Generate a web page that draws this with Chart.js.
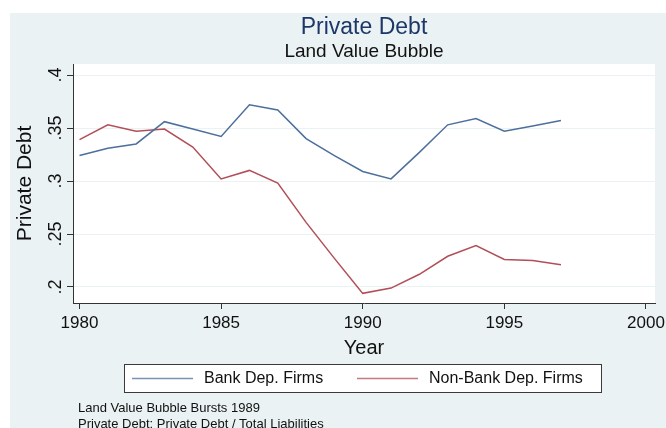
<!DOCTYPE html>
<html>
<head>
<meta charset="utf-8">
<script src="https://cdn.jsdelivr.net/npm/chart.js@4.4.1/dist/chart.umd.min.js"></script>
<style>
  html, body { margin: 0; padding: 0; background: #fff; }
  #wrap { width: 666px; height: 428px; position: relative; }
</style>
</head>
<body>
<div id="wrap"><canvas id="chart" width="666" height="428"></canvas></div>
<script>
// data
const years = [1980, 1981, 1982, 1983, 1984, 1985, 1986, 1987, 1988,
               1989, 1990, 1991, 1992, 1993, 1994, 1995, 1996, 1997];
const bankDep = [0.324, 0.331, 0.335, 0.356, 0.349, 0.342, 0.372, 0.367, 0.340,
                 0.324, 0.309, 0.302, 0.327, 0.353, 0.359, 0.347, 0.352, 0.357];
const nonBankDep = [0.339, 0.353, 0.347, 0.349, 0.332, 0.302, 0.310, 0.298, 0.261,
                    0.227, 0.194, 0.199, 0.212, 0.229, 0.239, 0.226, 0.225, 0.221];
const xTicks = [1980, 1985, 1990, 1995, 2000];
const yTicks = [0.2, 0.25, 0.3, 0.35, 0.4];
const yTickLabels = [".2", ".25", ".3", ".35", ".4"];
const seriesNames = ["Bank Dep. Firms", "Non-Bank Dep. Firms"];
const notes = ["Land Value Bubble Bursts 1989", "Private Debt: Private Debt / Total Liabilities"];

const FONT = "'Liberation Sans', Arial, Helvetica, sans-serif";
const BG = "#eaf2f3";

// graph region + plot region backgrounds
const backgrounds = {
    id: "backgrounds",
    beforeDraw(chart) {
        const { ctx, chartArea: a } = chart;
        ctx.save();
        ctx.fillStyle = "#ffffff";
        ctx.fillRect(0, 0, chart.width, chart.height);
        ctx.fillStyle = BG;
        ctx.fillRect(10, 13, chart.width - 10, chart.height - 13);
        ctx.fillStyle = "#ffffff";
        ctx.fillRect(a.left, a.top, a.right - a.left, a.bottom - a.top);
        ctx.restore();
    },
};

// boxed legend and notes under the x axis
const legendAndNotes = {
    id: "legendAndNotes",
    afterDraw(chart) {
        const { ctx } = chart;
        ctx.save();
        ctx.fillStyle = "#ffffff";
        ctx.fillRect(124, 364, 477, 28);
        ctx.strokeStyle = "#3a3a3a";
        ctx.lineWidth = 1;
        ctx.strokeRect(124.5, 364.5, 477, 28);

        const starts = [132, 357];
        ctx.font = "16px " + FONT;
        ctx.textBaseline = "middle";
        chart.data.datasets.forEach((ds, i) => {
            const x = starts[i];
            ctx.strokeStyle = ds.borderColor;
            ctx.globalAlpha = 0.75;
            ctx.lineWidth = 1.5;
            ctx.beginPath();
            ctx.moveTo(x, 378.5);
            ctx.lineTo(x + 61, 378.5);
            ctx.stroke();
            ctx.globalAlpha = 1;
            ctx.fillStyle = "#111";
            ctx.fillText(ds.label, x + 72, 379);
        });

        ctx.font = "13px " + FONT;
        ctx.fillStyle = "#111";
        notes.forEach((n, i) => ctx.fillText(n, 78, 408 + i * 16));
        ctx.restore();
    },
};

new Chart(document.getElementById("chart"), {
    type: "line",
    data: {
        datasets: [
            {
                label: seriesNames[0],
                data: years.map((y, i) => ({ x: y, y: bankDep[i] })),
                borderColor: "#4c6f9c",
                borderWidth: 1.5,
                pointRadius: 0,
                tension: 0,
            },
            {
                label: seriesNames[1],
                data: years.map((y, i) => ({ x: y, y: nonBankDep[i] })),
                borderColor: "#b24e57",
                borderWidth: 1.5,
                pointRadius: 0,
                tension: 0,
            },
        ],
    },
    options: {
        responsive: false,
        animation: false,
        devicePixelRatio: 1,
        layout: { padding: { left: 10, right: 11, top: 0, bottom: 68 } },
        plugins: {
            legend: { display: false },
            tooltip: { enabled: false },
            title: {
                display: true,
                fullSize: false,
                text: "Private Debt",
                color: "#1d3769",
                font: { family: FONT, size: 23, weight: "normal", lineHeight: 1.0 },
                padding: { top: 16, bottom: 0 },
            },
            subtitle: {
                display: true,
                fullSize: false,
                text: "Land Value Bubble",
                color: "#111",
                font: { family: FONT, size: 19, weight: "normal", lineHeight: 1.0 },
                padding: { top: 3, bottom: 3 },
            },
        },
        scales: {
            x: {
                type: "linear",
                min: 1979.77,
                max: 2000.32,
                afterBuildTicks: (s) => { s.ticks = xTicks.map((v) => ({ value: v })); },
                afterFit: (s) => { s.height = 57; s.paddingLeft = 0; s.paddingRight = 0; },
                grid: { drawOnChartArea: false, tickLength: 6, tickColor: "#333", tickWidth: 1 },
                border: { display: true, color: "#333", width: 1 },
                ticks: {
                    color: "#111",
                    padding: 4,
                    maxRotation: 0,
                    font: { family: FONT, size: 17 },
                    callback: (v) => String(v),
                },
                title: {
                    display: true,
                    text: "Year",
                    color: "#111",
                    font: { family: FONT, size: 20 },
                    padding: { top: 0, bottom: 0 },
                },
            },
            y: {
                min: 0.1849,
                max: 0.4104,
                afterBuildTicks: (s) => { s.ticks = yTicks.map((v) => ({ value: v })); },
                afterFit: (s) => { s.width = 63; s.paddingTop = 0; s.paddingBottom = 0; },
                grid: { color: BG, lineWidth: 1, tickLength: 6, tickColor: "#333", tickWidth: 1 },
                border: { display: true, color: "#333", width: 1 },
                ticks: {
                    color: "#111",
                    padding: -2,
                    minRotation: 90,
                    maxRotation: 90,
                    crossAlign: "center",
                    font: { family: FONT, size: 18 },
                    callback: (v) => yTickLabels[yTicks.indexOf(v)],
                },
                title: {
                    display: true,
                    text: "Private Debt",
                    color: "#111",
                    font: { family: FONT, size: 21 },
                    padding: { top: 3, bottom: 0 },
                },
            },
        },
    },
    plugins: [backgrounds, legendAndNotes],
});
</script>
</body>
</html>
